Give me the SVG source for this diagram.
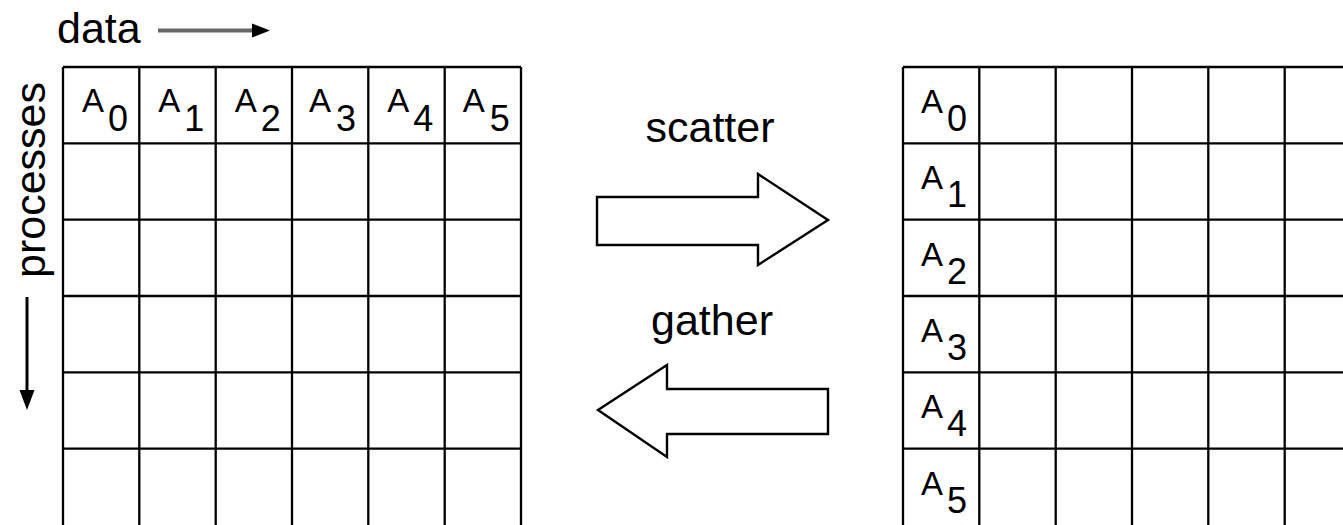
<svg xmlns="http://www.w3.org/2000/svg" width="1343" height="525" viewBox="0 0 1343 525">
<style>
.grid{fill:none;stroke:#000;stroke-width:2.3}
.lbl{font-family:"Liberation Sans",Arial,sans-serif;font-size:33px;fill:#000}
.sub{font-family:"Liberation Sans",Arial,sans-serif;font-size:36px;fill:#000}
.big{font-family:"Liberation Sans",Arial,sans-serif;font-size:43px;fill:#000}
.blk{fill:#fff;stroke:#000;stroke-width:2.4;stroke-linejoin:miter}
.head{fill:#000}
</style>
<rect width="1343" height="525" fill="#fff"/>

<g id="left-grid">
<path class="grid" d="M63,67V526M139.3,67V526M215.7,67V526M292,67V526M368.3,67V526M444.7,67V526M521,67V526M63,67H521M63,143.3H521M63,219.7H521M63,296H521M63,372.3H521M63,448.7H521"/>
<g id="cell-l0"><text class="lbl" x="82" y="112">A</text><text class="sub" x="108" y="131">0</text></g>
<g id="cell-l1"><text class="lbl" x="158.3" y="112">A</text><text class="sub" x="184.3" y="131">1</text></g>
<g id="cell-l2"><text class="lbl" x="234.7" y="112">A</text><text class="sub" x="260.7" y="131">2</text></g>
<g id="cell-l3"><text class="lbl" x="309" y="112">A</text><text class="sub" x="336" y="131">3</text></g>
<g id="cell-l4"><text class="lbl" x="387.3" y="112">A</text><text class="sub" x="413.3" y="131">4</text></g>
<g id="cell-l5"><text class="lbl" x="462.7" y="112">A</text><text class="sub" x="489.7" y="131">5</text></g>
</g>

<g id="right-grid">
<path class="grid" d="M903,67V526M979.3,67V526M1055.7,67V526M1132,67V526M1208.3,67V526M1284.7,67V526M903,67H1345M903,143.3H1345M903,219.7H1345M903,296H1345M903,372.3H1345M903,448.7H1345"/>
<g id="cell-r0"><text class="lbl" x="921" y="113">A</text><text class="sub" x="947" y="131">0</text></g>
<g id="cell-r1"><text class="lbl" x="921" y="189.3">A</text><text class="sub" x="947" y="207.3">1</text></g>
<g id="cell-r2"><text class="lbl" x="921" y="265.7">A</text><text class="sub" x="947" y="283.7">2</text></g>
<g id="cell-r3"><text class="lbl" x="921" y="342">A</text><text class="sub" x="947" y="360">3</text></g>
<g id="cell-r4"><text class="lbl" x="921" y="418.3">A</text><text class="sub" x="947" y="436.3">4</text></g>
<g id="cell-r5"><text class="lbl" x="921" y="494.7">A</text><text class="sub" x="947" y="512.7">5</text></g>
</g>

<g id="axis-labels">
<text class="big" x="57" y="43">data</text>
<text class="big" transform="translate(45,180) rotate(-90)" text-anchor="middle">processes</text>
</g>

<g id="scatter">
<text class="big" x="710" y="142" text-anchor="middle">scatter</text>
<path class="blk" d="M597,197H758V174L828,220L758,265V245H597Z"/>
</g>

<g id="gather">
<text class="big" x="712" y="335" text-anchor="middle">gather</text>
<path class="blk" d="M828,389H667V365L598,410L667,457V434H828Z"/>
</g>

<g id="connectors">
<line x1="158" y1="30.5" x2="255" y2="30.5" stroke="#666" stroke-width="4"/>
<polygon class="head" points="252,23.5 270,30.5 252,37.5"/>
<line x1="27" y1="297" x2="27" y2="393" stroke="#000" stroke-width="3"/>
<polygon class="head" points="19.5,390 27,410 34.5,390"/>
</g>
</svg>
